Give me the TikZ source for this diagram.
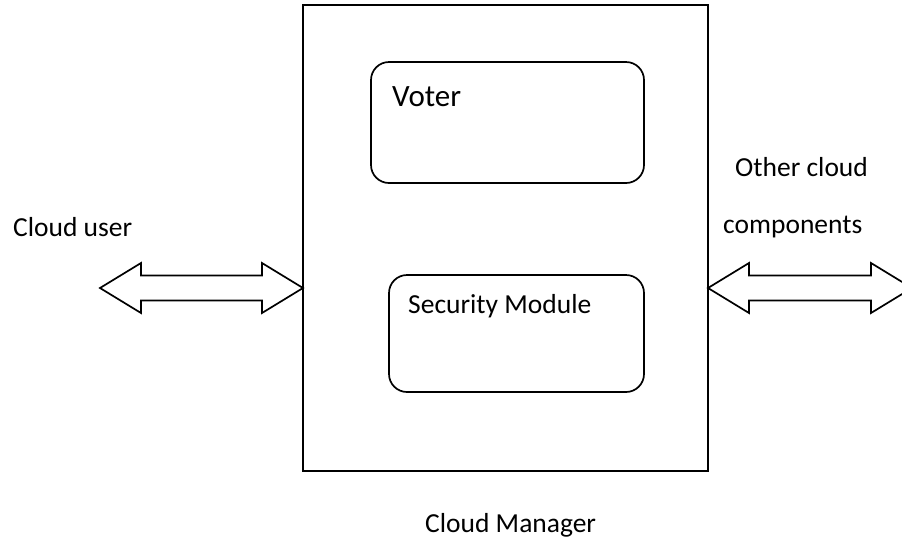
\documentclass[tikz,border=0pt]{standalone}
\usepackage{fontspec}
\setmainfont{Carlito}
\usetikzlibrary{calc}
\tikzset{
  boxline/.style={draw=black, line width=1.7pt},
  outerbox/.style={boxline, rectangle, inner sep=0pt, outer sep=0pt},
  roundbox/.style={boxline, rectangle, rounded corners=18pt, inner sep=0pt, outer sep=0pt},
  lbl/.style={anchor=base west, inner sep=0pt, font=\fontsize{27.5}{31}\selectfont},
  biglbl/.style={anchor=base west, inner sep=0pt, font=\fontsize{31}{35}\selectfont},
  arrowline/.style={draw=black, line width=1.7pt, fill=white, line join=miter},
}
\newcommand\mydblarrow[2]{%
  \draw[arrowline] let \p1=(#1), \p2=(#2), \n1={\x2-\x1-82pt} in
    (\p1) -- ++(41,-25) -- ++(0,12.5) -- ++({\n1*1pt},0pt) -- ++(0,-12.5) -- (\p2)
    -- ++(-41,25) -- ++(0,-12.5) -- ++({-\n1*1pt},0pt) -- ++(0,12.5) -- cycle;}
\begin{document}
\begin{tikzpicture}[x=1pt,y=-1pt]
  \useasboundingbox (0,0) rectangle (902,539);
  \clip (0,0) rectangle (902,539);
  \fill[white] (0,0) rectangle (902,539);
  % Cloud manager box
  \node[outerbox, minimum width=405pt, minimum height=466pt] (manager) at (505.5,238) {};
  % inner modules
  \node[roundbox, minimum width=273pt, minimum height=121pt] (voter) at (507.5,122.5) {};
  \node[roundbox, minimum width=255pt, minimum height=117pt] (security) at (516.5,333.5) {};
  % labels
  \node[biglbl] (votertxt) at (392,106) {Voter};
  \node[lbl] (sectxt) at (408,313) {Security Module};
  \node[lbl] (mgrtxt) at (425,532) {Cloud Manager};
  \node[lbl] (usertxt) at (13,236) {Cloud user};
  \node[lbl] (othertxt1) at (735,176) {Other cloud};
  \node[lbl] (othertxt2) at (723,233) {components};
  % double arrows
  \coordinate (userend) at (100,288);
  \coordinate (mgrleft) at (manager.west |- userend);
  \coordinate (mgrright) at (manager.east |- userend);
  \coordinate (otherend) at (912,288);
  \mydblarrow{userend}{mgrleft}
  \mydblarrow{mgrright}{otherend}
\end{tikzpicture}
\end{document}
